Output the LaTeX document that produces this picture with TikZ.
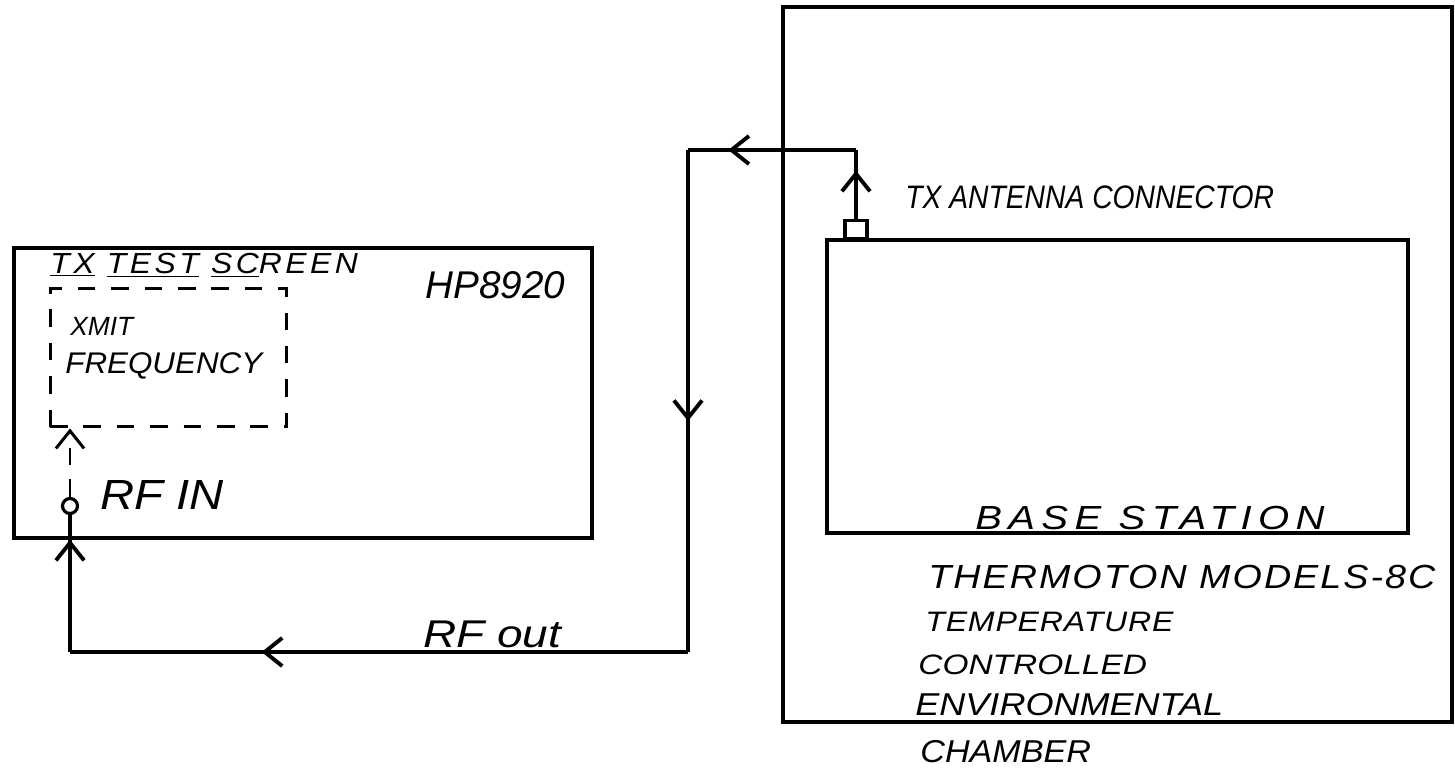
\documentclass[tikz,border=0pt]{standalone}
\usepackage{fontspec}
\setsansfont{Liberation Sans}
\usetikzlibrary{arrows.meta,decorations.markings,calc}
\newcommand{\hand}[3]{\fontsize{#1}{#1}\selectfont\sffamily\itshape\addfontfeature{FakeStretch=#2,LetterSpace=#3}}

\begin{document}
\begin{tikzpicture}[x=0.02cm,y=-0.02cm,
    line/.style={line width=2.2pt},
    barb/.style={-{Straight Barb[length=10pt,width=16pt]}},
    midbarb/.style={postaction={decorate,decoration={markings,
        mark=at position #1 with {\arrow{Straight Barb[length=10pt,width=16pt]}}}}},
    box/.style={draw,line width=2.2pt,inner sep=0pt},
    lbl/.style={anchor=west,inner sep=0pt}
]
\useasboundingbox (0,0) rectangle (1455,773);

% test set
\node[box,minimum width=11.56cm,minimum height=5.8cm] (hp) at (303,393) {};
\node[box,line width=1.7pt,dash pattern=on 10pt off 9pt,minimum width=4.74cm,minimum height=2.78cm] (scr) at (168.5,357.5) {};
\node[box,circle,line width=1.8pt,minimum size=0.3cm] (rfin) at (70,506) {};

% chamber and base station
\node[box,minimum width=13.38cm,minimum height=14.3cm] (chamber) at (1117.5,364.5) {};
\node[box,minimum width=11.62cm,minimum height=5.86cm] (bs) at (1117.5,386.5) {};
\node[box,line width=1.8pt,minimum width=0.44cm,minimum height=0.36cm,anchor=south] (ant) at (856,240) {};

% cable
\coordinate (ctop) at (ant.north |- 0,150);
\coordinate (cleft) at (688,150);
\coordinate (cbot) at (688,652);
\coordinate (cend) at (rfin |- cbot);
\draw[line,midbarb=0.7] (ant.north) -- (ctop);
\draw[line,midbarb=0.76] (ctop) -- (cleft);
\draw[line,midbarb=0.54] (cleft) -- (cbot);
\draw[line,midbarb=0.69] (cbot) -- (cend);
\draw[line,midbarb=0.82] (cend) -- (rfin.south);
\draw[line width=1.7pt,dash pattern=on 10pt off 8pt,barb] (rfin.north) -- (rfin |- scr.south);

% labels
\node[lbl,font={\hand{16.5}{1.1}{12}}] (scrname) at (50,265) {\underline{TX} \underline{TEST} \underline{SC}REEN};
\node[lbl,font={\hand{22}{1.0}{0}}] (hpname) at (425,285) {HP8920};
\node[lbl,font={\hand{15}{1.0}{0}}] (xmit) at (70,326) {XMIT};
\node[lbl,font={\hand{17}{1.05}{0}}] (freq) at (65,366) {FREQUENCY};
\node[lbl,font={\hand{24}{1.12}{0}}] (rfinname) at (100,495) {RF IN};
\node[lbl,font={\hand{22}{1.19}{0}}] (rfout) at (423,634) {RF out};
\node[lbl,font={\hand{18.5}{0.87}{0}}] (antname) at (905,197) {TX ANTENNA CONNECTOR};
\node[lbl,font={\hand{19}{1.2}{19}}] (bsname) at (975,518) {BASE STATION};
\node[lbl,font={\hand{19}{1.13}{6}}] (ch1) at (928,577) {THERMOTON MODELS-8C};
\node[lbl,font={\hand{16}{1.14}{3}}] (ch2) at (925,622) {TEMPERATURE};
\node[lbl,font={\hand{16}{1.19}{0}}] (ch3) at (918,665) {CONTROLLED};
\node[lbl,font={\hand{18}{1.14}{0}}] (ch4) at (915,705) {ENVIRONMENTAL};
\node[lbl,font={\hand{18}{1.08}{0}}] (ch5) at (920,752) {CHAMBER};
\end{tikzpicture}
\end{document}
